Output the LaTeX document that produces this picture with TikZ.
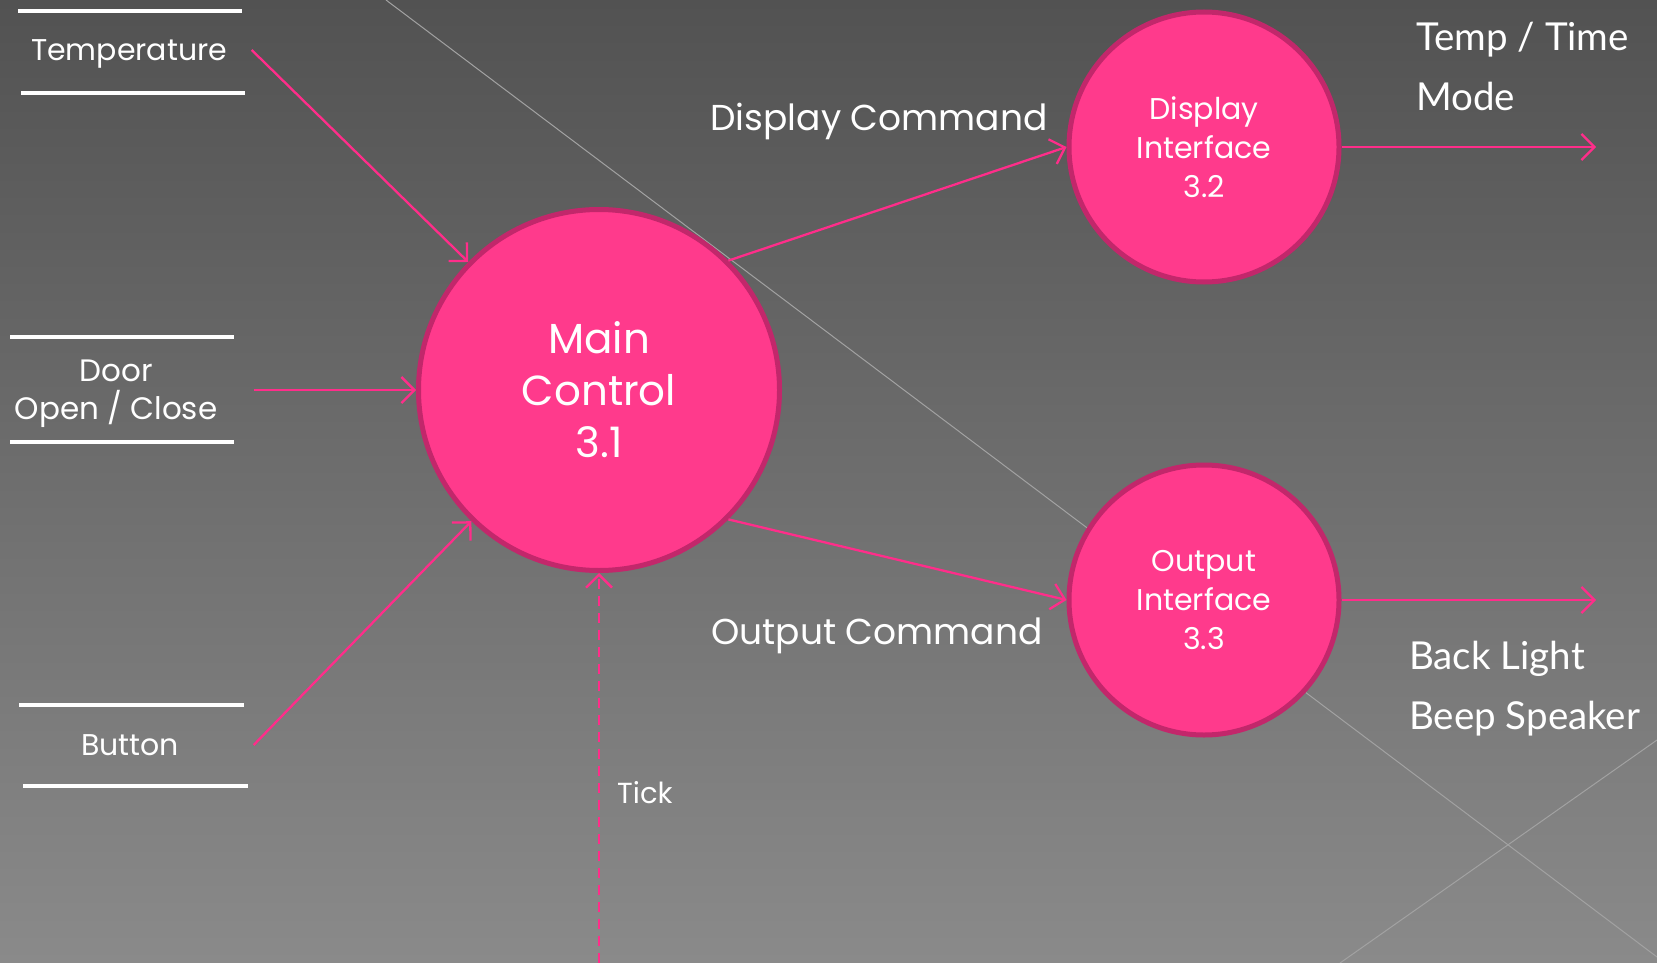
\documentclass[tikz,border=0pt]{standalone}
\usepackage{fontspec}
\setmainfont{Poppins}
\newfontfamily\uifont{Lato}
\usetikzlibrary{arrows.meta,positioning}
\definecolor{bgtop}{HTML}{525252}
\definecolor{bgbot}{HTML}{8A8A8A}
\definecolor{bubble}{HTML}{FF3A8C}
\definecolor{bubbleedge}{HTML}{C2276B}
\definecolor{flow}{HTML}{FF2D8A}
\definecolor{crease}{HTML}{A2A2A2}

\begin{document}
\begin{tikzpicture}[x=1pt,y=-1pt,
  process/.style={circle, fill=bubble, draw=bubbleedge, line width=5pt,
    text=white, align=center, inner sep=0pt, minimum size=#1},
  store/.style={minimum width=#1, inner sep=0pt, text depth=0pt,
    text=white, align=center},
  storeline/.style={draw=white, line width=4pt},
  flowline/.style={draw=flow, line width=2.3pt,
    -{Straight Barb[length=13pt,width=26pt,line width=2.3pt]}},
  txt/.style={text=white, inner sep=0pt, text depth=0pt}]
  \useasboundingbox (0,0) rectangle (1657,963);
  \shade[top color=bgtop, bottom color=bgbot] (0,0) rectangle (1657,963);
  \draw[crease, line width=1pt] (386,0) -- (1657,957);
  \draw[crease, line width=1pt] (1340,963) -- (1657,740);

  % processes
  \node[process=361pt, font=\fontsize{42}{52}\selectfont] (main) at (599,390)
    {Main\\Control\\3.1};
  \node[process=270pt, font=\fontsize{30}{39}\selectfont] (disp) at (1204,147)
    {Display\\Interface\\3.2};
  \node[process=270pt, font=\fontsize{30}{39}\selectfont] (outp) at (1204,600)
    {Output\\Interface\\3.3};

  % stores
  \node[store=245pt, font=\fontsize{30}{36}\selectfont] (temp) at (129,50) {Temperature};
  \draw[storeline] (18,11) -- (242,11);
  \draw[storeline] (21,93) -- (245,93);
  \node[store=275pt, font=\fontsize{31}{38}\selectfont] (door) at (116,390)
    {Door\\Open / Close};
  \draw[storeline] (10,337) -- (234,337);
  \draw[storeline] (10,442) -- (234,442);
  \node[store=247pt, font=\fontsize{30}{36}\selectfont] (button) at (130,745) {Button};
  \draw[storeline] (19,705) -- (244,705);
  \draw[storeline] (23,786) -- (248,786);

  % flows
  \draw[flowline] (temp.east) -- (main);
  \draw[flowline] (door.east) -- (main);
  \draw[flowline] (button.east) -- (main);
  \draw[flowline] (main.45) -- (disp.west);
  \draw[flowline] (main.-45) -- (outp.west);
  \coordinate (dispend) at (1596,147);
  \coordinate (outpend) at (1596,600);
  \coordinate (tickstart) at (599,963);
  \draw[flowline] (disp.east) -- (dispend);
  \draw[flowline] (outp.east) -- (outpend);
  \draw[flowline, dash pattern=on 10pt off 7pt] (tickstart) -- (main.south);

  % flow labels
  \node[txt, font=\fontsize{36}{40}\selectfont] (dispcmd) at (879,117) {Display Command};
  \node[txt, font=\fontsize{36}{40}\selectfont] (outpcmd) at (877,631) {Output Command};
  \node[txt, anchor=west, font=\fontsize{29}{32}\selectfont] (tick) at (617,792) {Tick};
  \node[txt, anchor=west, font=\uifont\fontsize{38.5}{40}\selectfont] (temptime) at (1416,36) {Temp / Time};
  \node[txt, anchor=west, font=\uifont\fontsize{38.5}{40}\selectfont] (mode) at (1416,96) {Mode};
  \node[txt, anchor=west, font=\uifont\fontsize{38.5}{40}\selectfont] (backlight) at (1409,655) {Back Light};
  \node[txt, anchor=west, font=\uifont\fontsize{38.5}{40}\selectfont] (beep) at (1409,715) {Beep Speaker};
\end{tikzpicture}
\end{document}
